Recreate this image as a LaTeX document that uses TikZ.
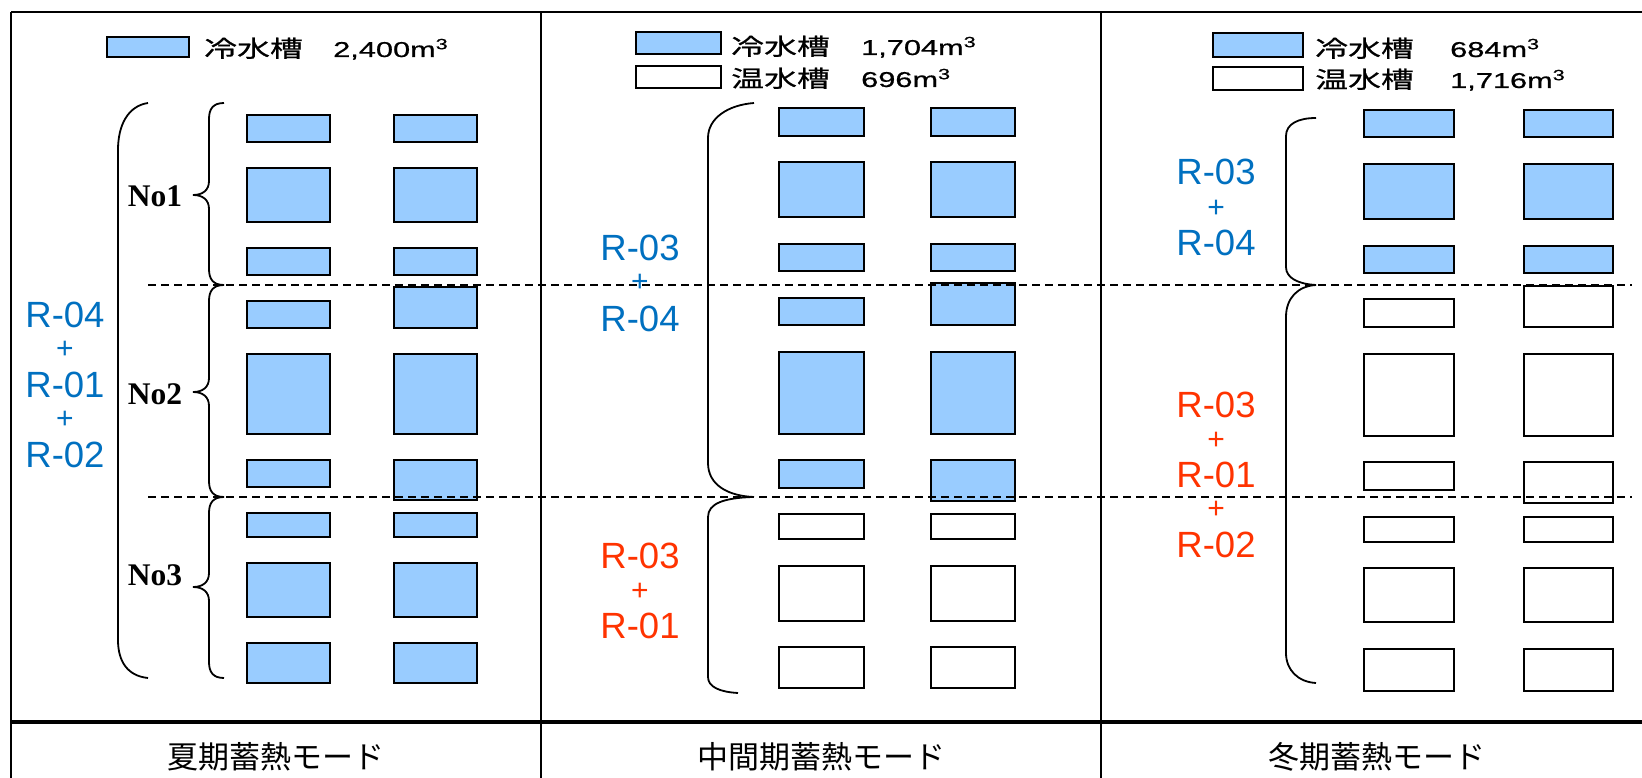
\documentclass[tikz,border=0pt]{standalone}
\usepackage{fontspec}
\setmainfont{Liberation Sans}
\newfontfamily\jpfont{Noto Sans CJK JP}
\newfontfamily\jplegfont[FakeBold=0.6]{Noto Sans CJK JP}
\newfontfamily\numlegfont[FakeBold=0.6]{Liberation Sans}
\newfontfamily\tmsfont{Liberation Serif}
\newcommand\cubicm{m\raisebox{0.36em}{\fontsize{15}{15}\selectfont 3}}
\definecolor{tankblue}{RGB}{153,204,255}
\definecolor{labblue}{RGB}{0,112,192}
\definecolor{labred}{RGB}{255,51,0}
\begin{document}
\begin{tikzpicture}[x=1pt,y=-1pt,
  tank/.style={draw=black, line width=2.2pt},
  cold/.style={tank, fill=tankblue},
  warm/.style={tank, fill=white},
  frameline/.style={line width=2.2pt},
  sepline/.style={line width=3.5pt},
  zoneline/.style={dash pattern=on 8pt off 5pt, line width=2pt},
  bracketline/.style={line width=1.8pt},
  legcjk/.style={inner sep=0pt, anchor=base west, font=\jplegfont\fontsize{23}{27}\selectfont},
  legnum/.style={inner sep=0pt, anchor=base west, font=\numlegfont\fontsize{21.5}{25}\selectfont},
  rlab/.style={inner sep=0pt, anchor=base, font=\fontsize{36.5}{40}\selectfont},
  plab/.style={inner sep=0pt, font=\fontsize{30}{34}\selectfont},
  nolab/.style={inner sep=0pt, anchor=base, font=\tmsfont\bfseries\fontsize{31.5}{35}\selectfont},
  caption/.style={inner sep=0pt, anchor=base, font=\jpfont\fontsize{31}{36}\selectfont}
]
\useasboundingbox (0,0) rectangle (1642,778);
\fill[white] (0,0) rectangle (1642,778);

% ---------- frame ----------
\draw[frameline] (11,12) -- (1642,12);
\draw[frameline] (11,12) -- (11,778);
\draw[line width=2pt] (541,12) -- (541,778);
\draw[line width=2pt] (1101,12) -- (1101,778);
\draw[sepline] (11,722) -- (1642,722);

% ---------- panel 1 tanks ----------
\foreach \a/\b in {115/142,168/222,248/275,301/328,354/434,460/487,513/537,563/617,643/683}
  \draw[cold] (247,\a) rectangle (330,\b);
\foreach \a/\b in {115/142,168/222,248/275,287/328,354/434,460/500,513/537,563/617,643/683}
  \draw[cold] (394,\a) rectangle (477,\b);

% ---------- panel 2 tanks ----------
\foreach \a/\b in {108/136,162/217,244/271,298/325,352/434,460/488}
  \draw[cold] (779,\a) rectangle (864,\b);
\foreach \a/\b in {514/539,566/621,647/688}
  \draw[warm] (779,\a) rectangle (864,\b);
\foreach \a/\b in {108/136,162/217,244/271,283/325,352/434,460/501}
  \draw[cold] (931,\a) rectangle (1015,\b);
\foreach \a/\b in {514/539,566/621,647/688}
  \draw[warm] (931,\a) rectangle (1015,\b);

% ---------- panel 3 tanks ----------
\foreach \a/\b in {110/137,164/219,246/273}
  \draw[cold] (1364,\a) rectangle (1454,\b);
\foreach \a/\b in {299/327,354/436,462/490,517/542,568/622,649/691}
  \draw[warm] (1364,\a) rectangle (1454,\b);
\foreach \a/\b in {110/137,164/219,246/273}
  \draw[cold] (1524,\a) rectangle (1613,\b);
\foreach \a/\b in {286/327,354/436,462/503,517/542,568/622,649/691}
  \draw[warm] (1524,\a) rectangle (1613,\b);

% ---------- zone lines ----------
\draw[zoneline] (148,285) -- (1632,285);
\draw[zoneline] (148,497) -- (1632,497);

% ---------- legends ----------
\draw[cold] (107,37) rectangle (189,57);
\node[legcjk] (leg1a) at (204,57) {\scalebox{1.43}[1]{冷水槽}};
\node[legnum] (leg1b) at (333,57) {\scalebox{1.43}[1]{2,400\cubicm}};

\draw[cold] (636,32) rectangle (721,54);
\draw[warm] (636,66) rectangle (721,88);
\node[legcjk] (leg2a) at (731,55) {\scalebox{1.43}[1]{冷水槽}};
\node[legnum] (leg2b) at (861,55) {\scalebox{1.43}[1]{1,704\cubicm}};
\node[legcjk] (leg2c) at (731,87) {\scalebox{1.43}[1]{温水槽}};
\node[legnum] (leg2d) at (861,87) {\scalebox{1.43}[1]{696\cubicm}};

\draw[cold] (1213,33) rectangle (1303,57);
\draw[warm] (1213,67) rectangle (1303,90);
\node[legcjk] (leg3a) at (1315,57) {\scalebox{1.43}[1]{冷水槽}};
\node[legnum] (leg3b) at (1450,57) {\scalebox{1.43}[1]{684\cubicm}};
\node[legcjk] (leg3c) at (1315,88) {\scalebox{1.43}[1]{温水槽}};
\node[legnum] (leg3d) at (1450,88) {\scalebox{1.43}[1]{1,716\cubicm}};

% ---------- panel 1 brackets ----------
\draw[bracketline] (148,103) .. controls (128,106) and (118,125) .. (118,150)
  -- (118,640) .. controls (118,662) and (128,676) .. (148,678);
\foreach \t/\m/\e in {103/195/285, 285/392/497, 497/587/678}
  \draw[bracketline] (224,\t) .. controls (213,\t) and (209,\t+6) .. (209,\t+16)
    -- (209,\m-14) .. controls (209,\m-5) and (203,\m) .. (193,\m)
    .. controls (203,\m) and (209,\m+5) .. (209,\m+14)
    -- (209,\e-16) .. controls (209,\e-6) and (213,\e) .. (224,\e);

\node[nolab] (no1) at (155,207) {No1};
\node[nolab] (no2) at (155,404) {No2};
\node[nolab] (no3) at (155,585) {No3};

\node[rlab, text=labblue] (p1r1) at (65,327) {R-04};
\node[plab, text=labblue] (p1p1) at (65,350) {+};
\node[rlab, text=labblue] (p1r2) at (65,397) {R-01};
\node[plab, text=labblue] (p1p2) at (65,420) {+};
\node[rlab, text=labblue] (p1r3) at (65,467) {R-02};

% ---------- panel 2 brackets ----------
\draw[bracketline] (754,103) .. controls (728,105) and (708,118) .. (708,138)
  -- (708,463) .. controls (708,485) and (728,496) .. (754,497);
\draw[bracketline] (752,497) .. controls (725,498) and (708,503) .. (708,517)
  -- (708,677) .. controls (708,687) and (720,692) .. (738,693);

\node[rlab, text=labblue] (p2r1) at (640,261) {R-03};
\node[plab, text=labblue] (p2p1) at (640,283) {+};
\node[rlab, text=labblue] (p2r2) at (640,331) {R-04};
\node[rlab, text=labred] (p2r3) at (640,568) {R-03};
\node[plab, text=labred] (p2p2) at (640,592) {+};
\node[rlab, text=labred] (p2r4) at (640,638) {R-01};

% ---------- panel 3 brackets ----------
\draw[bracketline] (1316,118) .. controls (1298,118) and (1286,124) .. (1286,136)
  -- (1286,267) .. controls (1286,278) and (1298,284) .. (1316,285);
\draw[bracketline] (1316,285) .. controls (1298,286) and (1286,298) .. (1286,317)
  -- (1286,653) .. controls (1286,670) and (1298,682) .. (1316,683);

\node[rlab, text=labblue] (p3r1) at (1216,185) {R-03};
\node[plab, text=labblue] (p3p1) at (1216,209) {+};
\node[rlab, text=labblue] (p3r2) at (1216,256) {R-04};
\node[rlab, text=labred] (p3r3) at (1216,417) {R-03};
\node[plab, text=labred] (p3p2) at (1216,441) {+};
\node[rlab, text=labred] (p3r4) at (1216,487) {R-01};
\node[plab, text=labred] (p3p3) at (1216,510) {+};
\node[rlab, text=labred] (p3r5) at (1216,557) {R-02};

% ---------- captions ----------
\node[caption] (cap1) at (276,768) {夏期蓄熱モード};
\node[caption] (cap2) at (821,768) {中間期蓄熱モード};
\node[caption] (cap3) at (1377,768) {冬期蓄熱モード};
\end{tikzpicture}
\end{document}
